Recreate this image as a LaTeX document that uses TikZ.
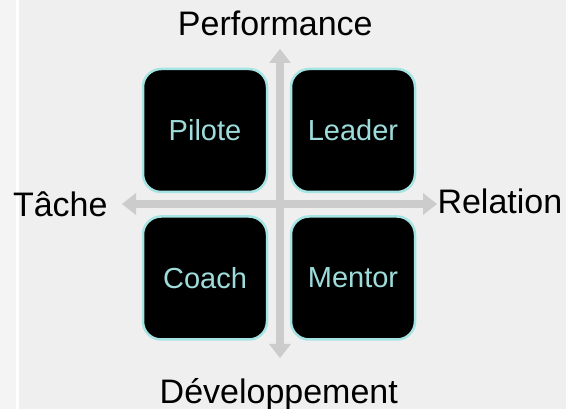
\documentclass[tikz,border=0pt]{standalone}
\usepackage{fontspec}
\setmainfont{Liberation Sans}
\usetikzlibrary{arrows.meta}
\definecolor{bgmain}{HTML}{EFEFEF}
\definecolor{bgstrip}{HTML}{F4F4F4}
\definecolor{axisgray}{HTML}{CCCCCC}
\definecolor{boxedge}{HTML}{A6E4E4}
\definecolor{boxtext}{HTML}{9EDCDC}
\tikzset{
  quad/.style={draw=boxedge, line width=2.5pt, fill=black, rounded corners=18pt,
    minimum width=124pt, minimum height=123pt, inner sep=0pt, outer sep=0pt,
    text=boxtext, font=\fontsize{29}{34}\selectfont},
  axislabel/.style={inner sep=0pt, outer sep=0pt, text=black, font=\fontsize{34}{40}\selectfont},
  axisarrow/.style={draw=axisgray, line width=8pt,
    {Triangle[width=22pt,length=14pt,line width=0pt]}-{Triangle[width=22pt,length=14pt,line width=0pt]}}
}
\begin{document}
\begin{tikzpicture}[x=1pt,y=-1pt]
\useasboundingbox (0,0) rectangle (566,409);
\fill[bgmain] (0,0) rectangle (566,409);
\fill[bgstrip] (0,0) rectangle (16,409);
\fill[white] (16,0) rectangle (19,409);
% axis ends
\coordinate (axL) at (122,204);
\coordinate (axR) at (437,204);
\coordinate (axT) at (280,49);
\coordinate (axB) at (280,358);
\draw[axisarrow] (axL) -- (axR);
\draw[axisarrow] (axT) -- (axB);
% quadrants
\node[quad] (pilote) at (205,130.5) {Pilote};
\node[quad] (leader) at (353,130.5) {Leader};
\node[quad] (coach) at (205,278) {Coach};
\node[quad] (mentor) at (353,278) {Mentor};
% axis labels
\node[axislabel, anchor=base] (perf) at (275.3,36) {Performance};
\node[axislabel, anchor=base] (dev) at (278.8,403) {Développement};
\node[axislabel, anchor=base west] (tache) at (13,217) {Tâche};
\node[axislabel, anchor=base west] (rel) at (437.5,214) {Relation};
\end{tikzpicture}
\end{document}
